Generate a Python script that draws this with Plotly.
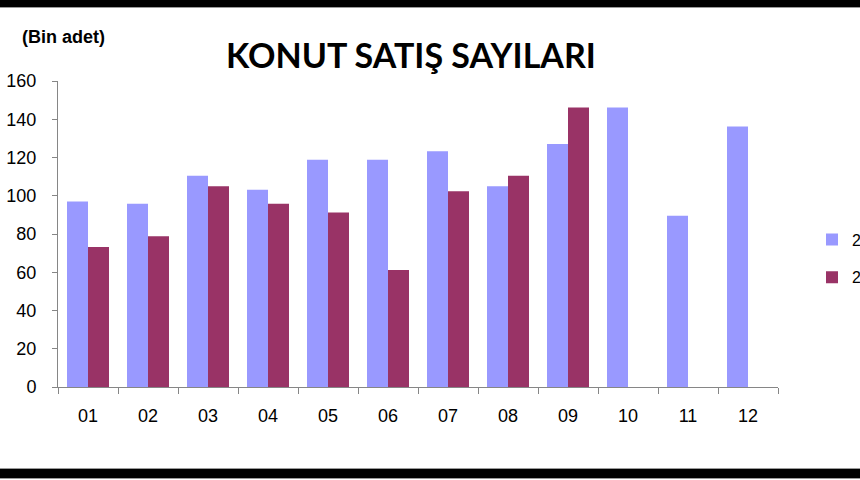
import plotly.graph_objects as go

months = ["01", "02", "03", "04", "05", "06", "07", "08", "09", "10", "11", "12"]
series_names = ["2018", "2019"]
sales_2018 = [97.0, 95.8, 110.4, 103.1, 118.8, 118.8, 123.3, 105.0, 127.1, 146.2, 89.6, 136.2]
sales_2019 = [73.2, 78.8, 105.0, 95.8, 91.3, 61.2, 102.4, 110.4, 146.2]
y_ticks = [0, 20, 40, 60, 80, 100, 120, 140, 160]

colors = ["#9999FF", "#993366"]

fig = go.Figure()
fig.add_trace(go.Bar(x=months, y=sales_2018, name=series_names[0], legendgroup="a",
                     marker=dict(color=colors[0], line=dict(width=0))))
fig.add_trace(go.Bar(x=months[:len(sales_2019)], y=sales_2019, name=series_names[1], legendgroup="b",
                     marker=dict(color=colors[1], line=dict(width=0))))

tick_font = dict(family="Liberation Sans, Arial, sans-serif", size=18, color="#000000")
legend_font = dict(family="Liberation Sans, Arial, sans-serif", size=16, color="#000000")

H = 306.0  # plot height in px
W = 720.0  # plot width in px

fig.update_layout(
    width=860, height=480,
    margin=dict(l=58, r=82, t=81, b=93, autoexpand=False),
    paper_bgcolor="#FFFFFF", plot_bgcolor="#FFFFFF",
    barmode="group", bargap=0.3, bargroupgap=0,
    showlegend=True,
    legend=dict(xref="container", yref="container", x=812 / 860, y=1 - 258.5 / 480,
                xanchor="left", yanchor="middle", borderwidth=0,
                font=legend_font, bgcolor="rgba(0,0,0,0)",
                itemwidth=30, tracegroupgap=14),
    xaxis=dict(
        type="category", showgrid=False, showline=True, linecolor="#868686", linewidth=1,
        ticks="outside", tickson="boundaries", ticklen=6, tickcolor="#868686",
        tickfont=tick_font, ticklabelstandoff=12, zeroline=False, automargin=False,
    ),
    yaxis=dict(
        range=[0, 160], tickvals=y_ticks, showgrid=False, showline=True,
        linecolor="#868686", linewidth=1, ticks="outside", ticklen=5, tickcolor="#868686",
        tickfont=tick_font, ticklabelstandoff=12, zeroline=False, automargin=False,
    ),
    annotations=[
        dict(text="<b>KONUT SATIŞ SAYILARI</b>", xref="paper", yref="paper",
             x=(411 - 58) / W, y=(387 - 54) / H, xanchor="center", yanchor="middle",
             showarrow=False,
             font=dict(family="Lato, sans-serif", size=34, color="#000000")),
        dict(text="<b>(Bin adet)</b>", xref="paper", yref="paper",
             x=(20 - 58) / W, y=(387 - 37) / H, xanchor="left", yanchor="middle", showarrow=False,
             font=dict(family="Liberation Sans, Arial, sans-serif", size=18, color="#000000")),
    ],
    shapes=[
        dict(type="rect", xref="paper", yref="paper", x0=-0.2, x1=1.3,
             y0=(387 - 7.5) / H, y1=(387 + 2) / H + 1, fillcolor="#000000",
             line=dict(width=1, color="#9a9a9a"), layer="above"),
        dict(type="rect", xref="paper", yref="paper", x0=-0.2, x1=1.3,
             y0=(387 - 478.5) / H, y1=(387 - 468.5) / H, fillcolor="#000000",
             line=dict(width=1, color="#9a9a9a"), layer="above"),
    ],
)

fig.write_html("out.html", config={"displayModeBar": False},
               post_script="document.body.style.margin='0';document.body.style.overflow='hidden';")
